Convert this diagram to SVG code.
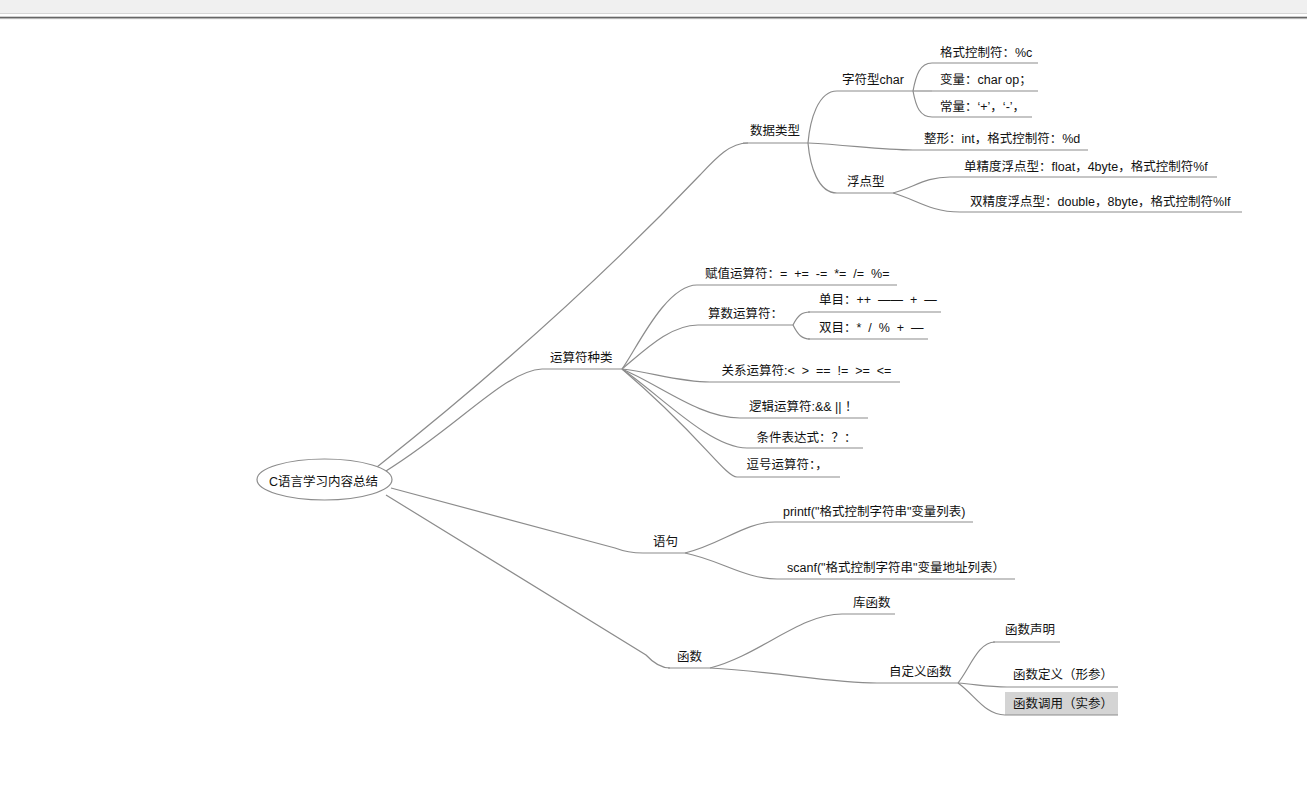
<svg xmlns="http://www.w3.org/2000/svg" width="1307" height="785" viewBox="0 0 1307 785">
<style>
.c{fill:none;stroke:#8c8c8c;stroke-width:1.2}
.u{fill:none;stroke:#8c8c8c;stroke-width:1.2}
.t{font-family:"Liberation Sans","Noto Sans CJK SC",sans-serif;font-size:12.5px;fill:#111;white-space:pre}
</style>
<rect x="0" y="0" width="1307" height="785" fill="#ffffff"/>
<rect x="0" y="0" width="1307" height="13" fill="#f0f0f0"/>
<rect x="0" y="13" width="1307" height="1" fill="#d6d6d6"/>
<rect x="0" y="16.7" width="1307" height="1.6" fill="#666666"/>
<rect x="0" y="18.3" width="1307" height="0.8" fill="#a8a8a8"/>

<g id="connectors">
<path class="c" d="M377,467 Q560,322 700,175 C717,157 730,143 748,143"/>
<path class="c" d="M386,471 C460,425 505,371 542,369"/>
<path class="c" d="M391,488 L615,548 Q628,553 643,553"/>
<path class="c" d="M386,495 L646,655 Q658,668 670,668"/>
<path class="c" d="M808,143 C810,120 818,91 837,91"/>
<path class="c" d="M808,143 C850,145 880,150 913,150"/>
<path class="c" d="M808,143 C810,166 818,193 837,193"/>
<path class="c" d="M913,91 C916,75 920,63 932,63"/>
<path class="c" d="M913,91 L932,91"/>
<path class="c" d="M913,91 C916,107 920,117 932,117"/>
<path class="c" d="M893,193 C915,187 925,177 950,177"/>
<path class="c" d="M893,193 C915,199 930,212 960,212"/>
<path class="c" d="M622,369 C635,352 665,285 697,285"/>
<path class="c" d="M622,369 C645,350 670,325 698,325"/>
<path class="c" d="M622,369 C650,372 680,382 710,382"/>
<path class="c" d="M622,369 C660,385 700,418 740,418"/>
<path class="c" d="M622,369 C660,395 710,448 747,448"/>
<path class="c" d="M622,369 C700,435 725,477 737,477"/>
<path class="c" d="M793,325 C798,315 802,312 810,312"/>
<path class="c" d="M793,325 C798,335 802,339 810,339"/>
<path class="c" d="M685,553 C720,545 745,522 775,522"/>
<path class="c" d="M685,553 C720,560 745,579 777,579"/>
<path class="c" d="M710,668 C760,655 800,614 842,614"/>
<path class="c" d="M710,668 C780,672 830,683 877,683"/>
<path class="c" d="M958,683 C970,668 978,642 995,642"/>
<path class="c" d="M958,683 C980,685 990,687 1007,687"/>
<path class="c" d="M958,683 C975,695 985,715 1005,715"/>
</g>

<g id="root">
<ellipse cx="324.5" cy="479.5" rx="67.5" ry="20.5" fill="#ffffff" stroke="#8c8c8c" stroke-width="1.2"/>
<text class="t" x="323.5" y="486" text-anchor="middle">C语言学习内容总结</text>
</g>

<g id="n-datatype">
<line class="u" x1="743" y1="143" x2="808" y2="143"/>
<text class="t" x="750" y="135">数据类型</text>
</g>
<g id="n-char">
<line class="u" x1="837" y1="91" x2="913" y2="91"/>
<text class="t" x="842" y="83.5">字符型char</text>
</g>
<g id="n-char-fmt">
<line class="u" x1="932" y1="63" x2="1038" y2="63"/>
<text class="t" x="940" y="56.5">格式控制符：%c</text>
</g>
<g id="n-char-var">
<line class="u" x1="932" y1="91" x2="1038" y2="91"/>
<text class="t" x="940" y="83.5">变量：char op；</text>
</g>
<g id="n-char-const">
<line class="u" x1="932" y1="117" x2="1032" y2="117"/>
<text class="t" x="940" y="110.5">常量：‘+’，‘-’，</text>
</g>
<g id="n-int">
<line class="u" x1="913" y1="150" x2="1088" y2="150"/>
<text class="t" x="924" y="142.5">整形：int，格式控制符：%d</text>
</g>
<g id="n-float">
<line class="u" x1="837" y1="193" x2="893" y2="193"/>
<text class="t" x="847" y="185.5">浮点型</text>
</g>
<g id="n-float-single">
<line class="u" x1="950" y1="177" x2="1217" y2="177"/>
<text class="t" x="964" y="170.5">单精度浮点型：float，4byte，格式控制符%f</text>
</g>
<g id="n-float-double">
<line class="u" x1="960" y1="212" x2="1242" y2="212"/>
<text class="t" x="970" y="205.5">双精度浮点型：double，8byte，格式控制符%lf</text>
</g>

<g id="n-ops">
<line class="u" x1="542" y1="369" x2="622" y2="369"/>
<text class="t" x="550" y="362">运算符种类</text>
</g>
<g id="n-assign">
<line class="u" x1="697" y1="285" x2="897" y2="285"/>
<text class="t" x="705" y="277.5">赋值运算符：=&#160;&#160;+=&#160;&#160;-=&#160;&#160;*=&#160;&#160;/=&#160;&#160;%=</text>
</g>
<g id="n-arith">
<line class="u" x1="698" y1="325" x2="793" y2="325"/>
<text class="t" x="708" y="318">算数运算符：</text>
</g>
<g id="n-unary">
<line class="u" x1="808" y1="312" x2="941" y2="312"/>
<text class="t" x="819" y="304">单目：++&#160;&#160;——&#160;&#160;+&#160;&#160;—</text>
</g>
<g id="n-binary">
<line class="u" x1="808" y1="339" x2="928" y2="339"/>
<text class="t" x="819" y="331.5">双目：*&#160;&#160;/&#160;&#160;%&#160;&#160;+&#160;&#160;—</text>
</g>
<g id="n-rel">
<line class="u" x1="710" y1="382" x2="900" y2="382"/>
<text class="t" x="721.5" y="375">关系运算符:&lt;&#160;&#160;&gt;&#160;&#160;==&#160;&#160;!=&#160;&#160;&gt;=&#160;&#160;&lt;=</text>
</g>
<g id="n-logic">
<line class="u" x1="740" y1="418" x2="868" y2="418"/>
<text class="t" x="749" y="410.5">逻辑运算符:&amp;&amp; || ！</text>
</g>
<g id="n-cond">
<line class="u" x1="747" y1="448" x2="863" y2="448"/>
<text class="t" x="756.5" y="442">条件表达式：？：</text>
</g>
<g id="n-comma">
<line class="u" x1="737" y1="477" x2="840" y2="477"/>
<text class="t" x="746.5" y="468.5">逗号运算符：，</text>
</g>

<g id="n-stmt">
<line class="u" x1="643" y1="553" x2="685" y2="553"/>
<text class="t" x="653" y="545.5">语句</text>
</g>
<g id="n-printf">
<line class="u" x1="775" y1="522" x2="973" y2="522"/>
<text class="t" x="783" y="515.5">printf("格式控制字符串"变量列表)</text>
</g>
<g id="n-scanf">
<line class="u" x1="777" y1="579" x2="1015" y2="579"/>
<text class="t" x="787" y="572">scanf("格式控制字符串"变量地址列表）</text>
</g>

<g id="n-func">
<line class="u" x1="668" y1="668" x2="710" y2="668"/>
<text class="t" x="677" y="661">函数</text>
</g>
<g id="n-lib">
<line class="u" x1="842" y1="614" x2="895" y2="614"/>
<text class="t" x="853" y="607">库函数</text>
</g>
<g id="n-user">
<line class="u" x1="877" y1="683" x2="958" y2="683"/>
<text class="t" x="889" y="675.5">自定义函数</text>
</g>
<g id="n-decl">
<line class="u" x1="993" y1="642" x2="1060" y2="642"/>
<text class="t" x="1005" y="633.5">函数声明</text>
</g>
<g id="n-def">
<line class="u" x1="1007" y1="687" x2="1118" y2="687"/>
<text class="t" x="1013" y="678.5">函数定义（形参）</text>
</g>
<g id="n-call">
<rect x="1005" y="692" width="113" height="23" fill="#d4d4d4"/>
<line class="u" x1="1005" y1="715" x2="1118" y2="715"/>
<text class="t" x="1013" y="708">函数调用（实参）</text>
</g>
</svg>
